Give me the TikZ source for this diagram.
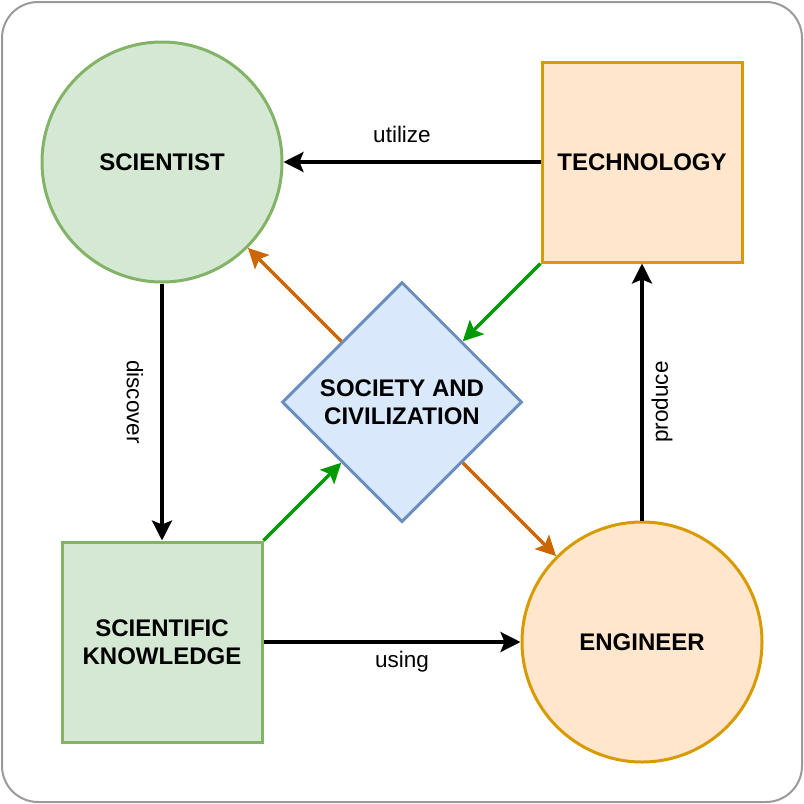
\documentclass[tikz,border=0pt]{standalone}
\usepackage{fontspec}
\setmainfont{Liberation Sans}
\usetikzlibrary{shapes.geometric,arrows.meta,calc}
\definecolor{gfill}{HTML}{D5E8D4}
\definecolor{gline}{HTML}{82B366}
\definecolor{ofill}{HTML}{FFE6CC}
\definecolor{oline}{HTML}{D79B00}
\definecolor{bfill}{HTML}{DAE8FC}
\definecolor{bline}{HTML}{6C8EBF}
\definecolor{garrow}{HTML}{009900}
\definecolor{oarrow}{HTML}{CC6600}
\definecolor{frame}{HTML}{9A9A9A}
\tikzset{
  shp/.style={line width=3pt, inner sep=0pt, align=center, font=\fontsize{24}{28}\selectfont\bfseries},
  circ/.style={shp, circle, minimum size=240pt},
  sq/.style={shp, rectangle, minimum width=200pt, minimum height=200pt},
  dia/.style={shp, diamond, minimum width=240pt, minimum height=240pt, aspect=1},
  conn/.style={line width=3.2pt, -{Stealth[length=20pt,width=20pt,inset=4pt]}},
  lbl/.style={font=\fontsize{22.5}{26}\selectfont, inner sep=0pt}
}
\begin{document}
\begin{tikzpicture}[x=1pt,y=-1pt]
\useasboundingbox (0,0) rectangle (804,804);
\draw[frame, line width=2pt, rounded corners=36pt] (2,2) rectangle (802,802);

\node[circ, draw=gline, fill=gfill] (sci) at (162,162) {SCIENTIST};
\node[sq, draw=oline, fill=ofill] (tech) at (642,162) {TECHNOLOGY};
\node[sq, draw=gline, fill=gfill] (sk) at (162,642) {SCIENTIFIC\\KNOWLEDGE};
\node[circ, draw=oline, fill=ofill] (eng) at (642,642) {ENGINEER};
\node[dia, draw=bline, fill=bfill] (soc) at (402,402) {SOCIETY AND\\CIVILIZATION};

\coordinate (sll) at ($(soc.west)!0.5!(soc.south)$);
\coordinate (sur) at ($(soc.north)!0.5!(soc.east)$);
\coordinate (sul) at ($(soc.west)!0.5!(soc.north)$);
\coordinate (slr) at ($(soc.south)!0.5!(soc.east)$);

\draw[conn] (tech.west) -- (sci.east);
\draw[conn] (sci.south) -- (sk.north);
\draw[conn] (sk.east) -- (eng.west);
\draw[conn] (eng.north) -- (tech.south);

\draw[conn, garrow] (sk.north east) -- (sll);
\draw[conn, garrow] (tech.south west) -- (sur);
\draw[conn, oarrow] (sul) -- (sci.south east);
\draw[conn, oarrow] (slr) -- (eng.north west);

\node[lbl] (lutil) at (402,134) {utilize};
\node[lbl, rotate=-90] (ldisc) at (135,402) {discover};
\node[lbl] (lusing) at (402,662) {using};
\node[lbl, rotate=90] (lprod) at (662,402) {produce};
\end{tikzpicture}
\end{document}
